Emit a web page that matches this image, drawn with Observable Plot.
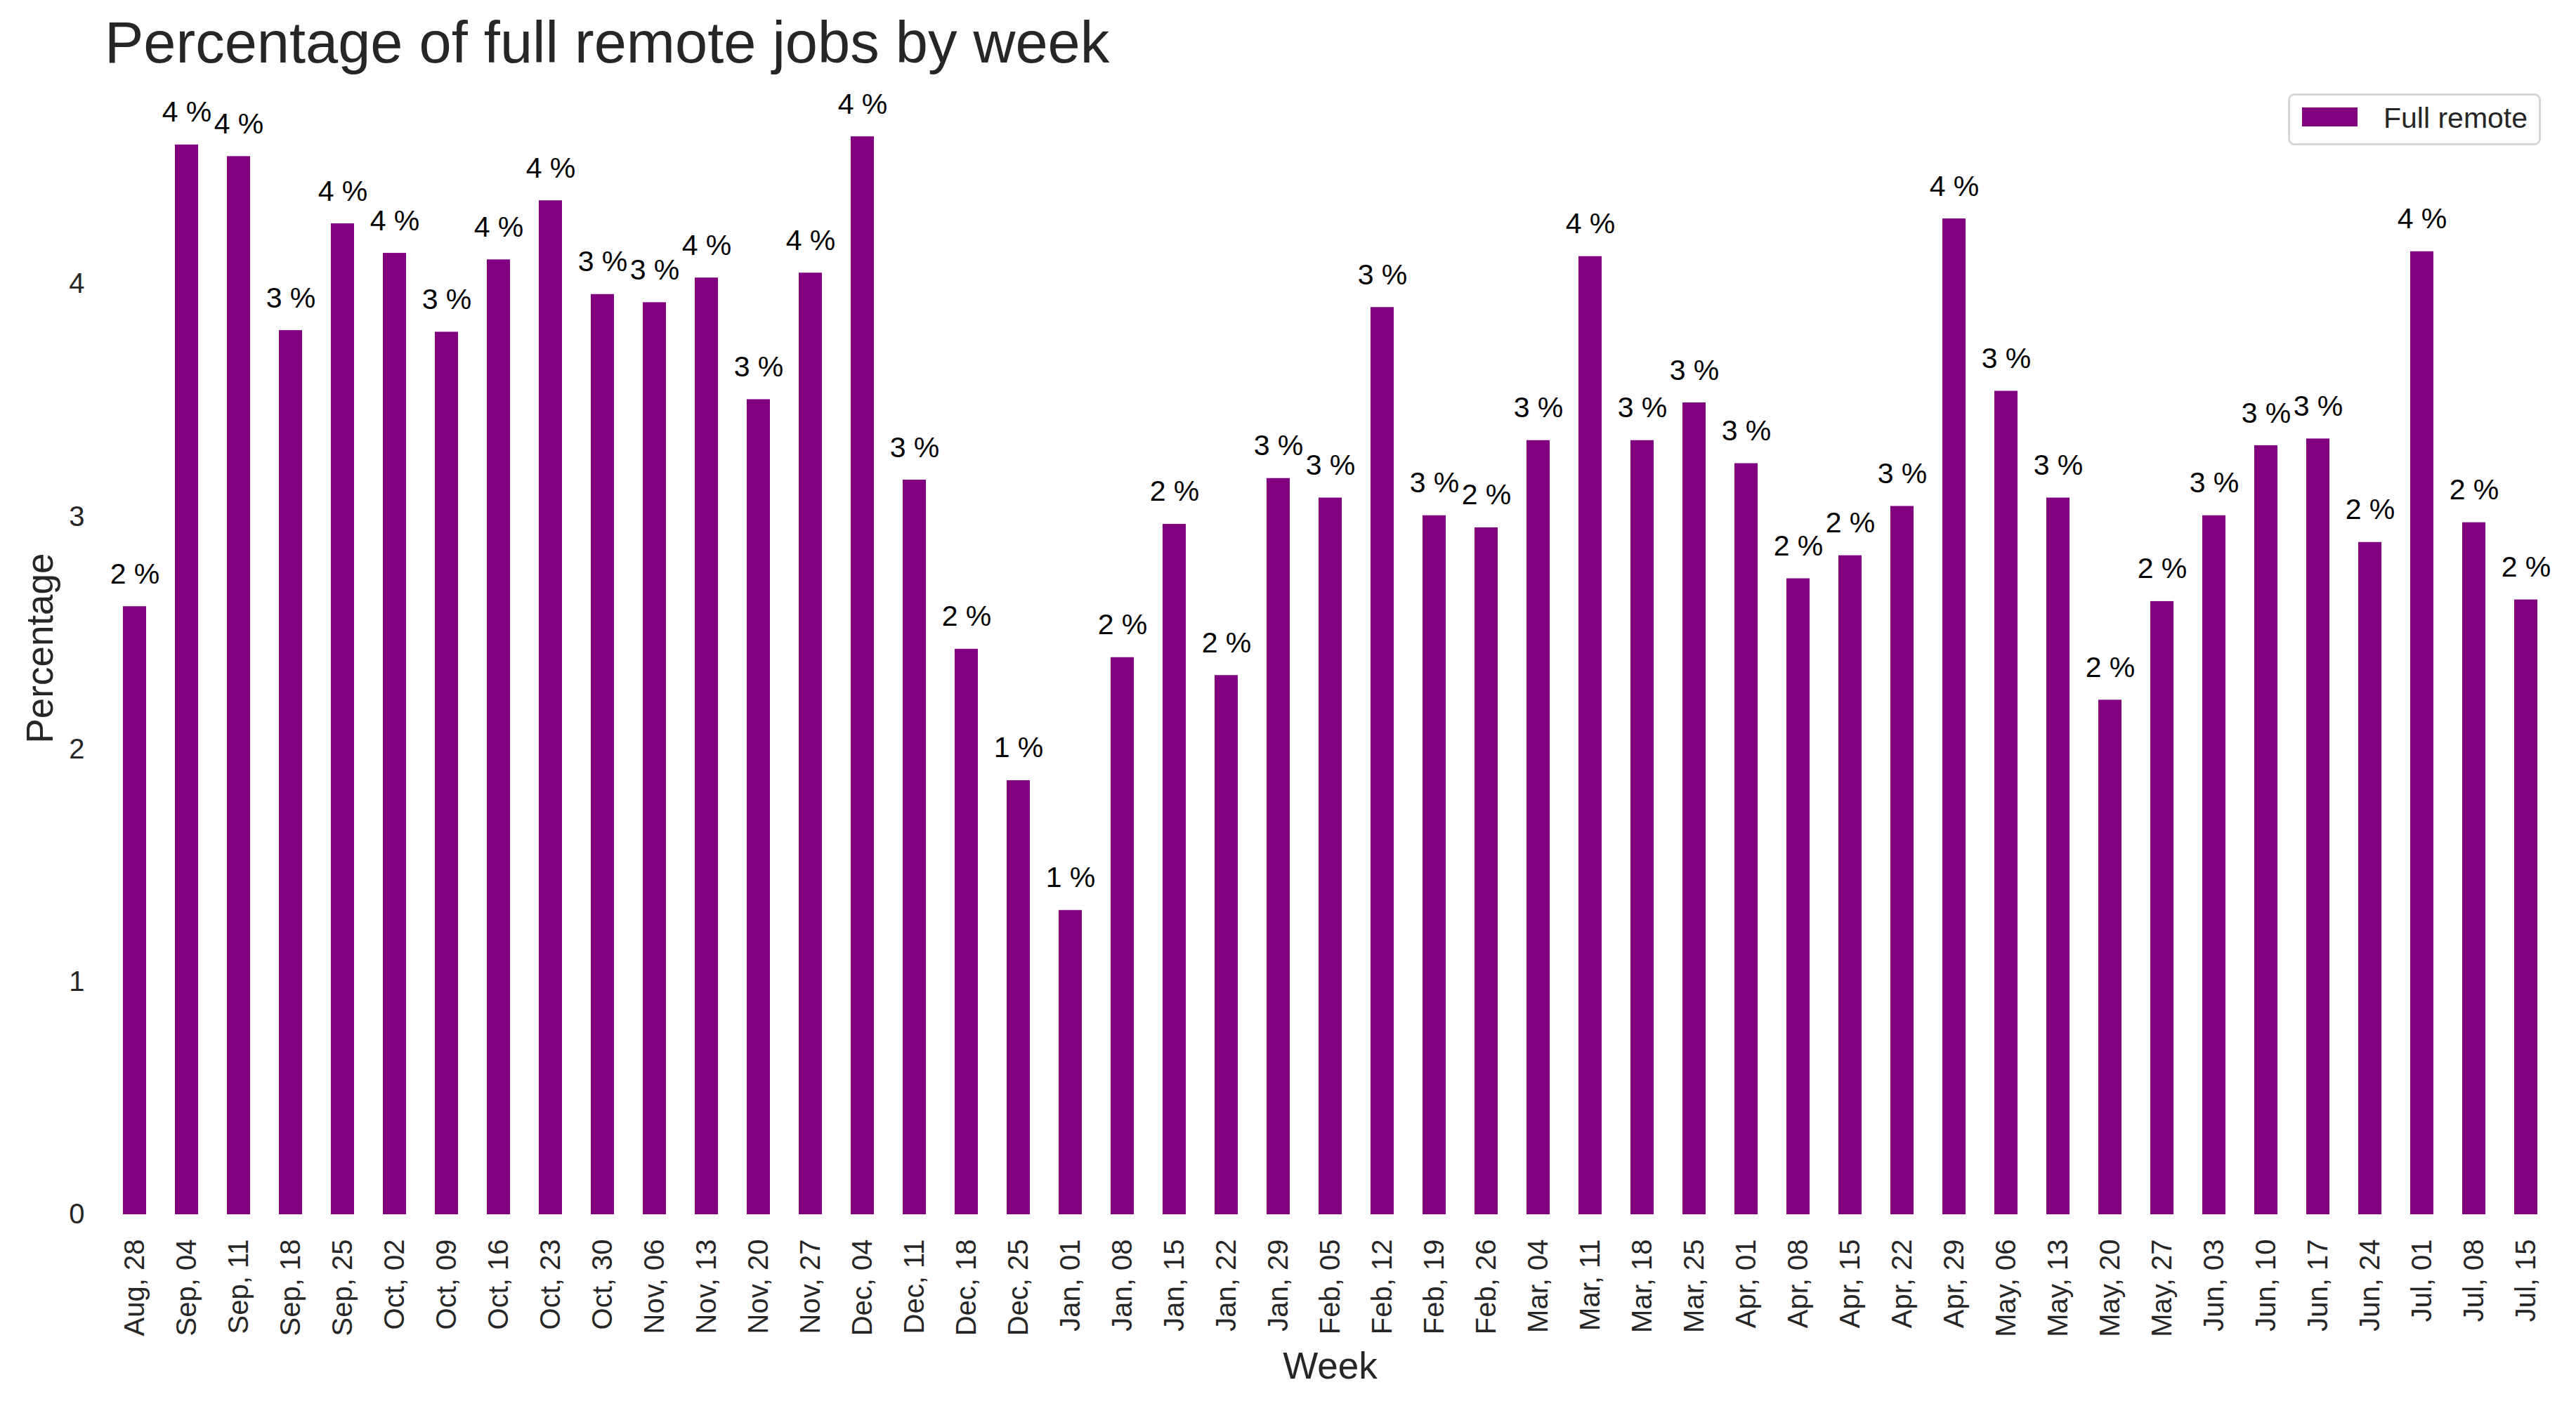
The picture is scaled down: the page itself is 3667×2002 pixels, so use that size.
<!DOCTYPE html>
<html>
<head>
<meta charset="utf-8">
<script src="https://cdn.jsdelivr.net/npm/d3@7"></script>
<script src="https://cdn.jsdelivr.net/npm/@observablehq/plot@0.6"></script>
<style>
  html, body { margin: 0; padding: 0; background: #fff; }
  #wrap { position: relative; width: 3667px; height: 2002px; overflow: hidden; font-family: "Liberation Sans", Arial, sans-serif; background: #fff; }
  #title { position: absolute; left: 149px; top: 19px; font-size: 83px; line-height: 83px; color: #262626; white-space: nowrap; z-index: 2; }
  #chart { position: absolute; left: 0; top: 100px; z-index: 1; }
  #legend { position: absolute; left: 3257px; top: 133px; width: 354px; height: 68px; border: 3px solid #d6d6d6; border-radius: 9px; background: #fff; z-index: 3; }
  #legend .sw { position: absolute; left: 17px; top: 17px; width: 79px; height: 27px; background: #800080; }
  #legend .lab { position: absolute; left: 133px; top: 9px; font-size: 41px; line-height: 46px; color: #262626; white-space: nowrap; }
</style>
</head>
<body>
<div id="wrap">
  <div id="title">Percentage of full remote jobs by week</div>
  <div id="chart"></div>
  <div id="legend"><div class="sw"></div><div class="lab">Full remote</div></div>
</div>
<script>
const weeks = ["Aug, 28","Sep, 04","Sep, 11","Sep, 18","Sep, 25","Oct, 02","Oct, 09","Oct, 16","Oct, 23","Oct, 30",
  "Nov, 06","Nov, 13","Nov, 20","Nov, 27","Dec, 04","Dec, 11","Dec, 18","Dec, 25","Jan, 01","Jan, 08",
  "Jan, 15","Jan, 22","Jan, 29","Feb, 05","Feb, 12","Feb, 19","Feb, 26","Mar, 04","Mar, 11","Mar, 18",
  "Mar, 25","Apr, 01","Apr, 08","Apr, 15","Apr, 22","Apr, 29","May, 06","May, 13","May, 20","May, 27",
  "Jun, 03","Jun, 10","Jun, 17","Jun, 24","Jul, 01","Jul, 08","Jul, 15"];
const fullRemote = [2.614,4.599,4.549,3.801,4.260,4.133,3.794,4.105,4.359,3.956,
  3.921,4.027,3.504,4.048,4.634,3.158,2.431,1.866,1.308,2.395,
  2.968,2.318,3.165,3.081,3.900,3.005,2.953,3.328,4.119,3.328,
  3.490,3.229,2.734,2.833,3.045,4.281,3.540,3.081,2.212,2.636,
  3.005,3.306,3.335,2.890,4.140,2.975,2.643];
const yTicks = [0, 1, 2, 3, 4];
const xLabel = "Week";
const yLabel = "Percentage";

const data = weeks.map((w, i) => ({week: w, value: fullRemote[i]}));
const font = "'Liberation Sans', Arial, sans-serif";

const chart = Plot.plot({
  width: 3667,
  height: 1902,
  marginLeft: 149,
  marginRight: 30,
  marginTop: 16,
  marginBottom: 273,
  style: {fontFamily: font, color: "#262626", background: "transparent", overflow: "visible"},
  x: {type: "band", domain: weeks, paddingInner: 0.555, paddingOuter: 0.2775, align: 0.5},
  y: {domain: [0, 4.87]},
  marks: [
    Plot.barY(data, {x: "week", y: "value", fill: "#800080"}),
    Plot.text(data, {x: "week", y: "value", text: d => `${Math.floor(d.value)} %`, dy: -33, lineAnchor: "bottom", fontSize: 41, fill: "black"}),
    Plot.axisY({ticks: yTicks, tickFormat: d => String(d), tickSize: 0, tickPadding: 29, fontSize: 40, label: null}),
    Plot.axisX({tickRotate: -90, tickSize: 0, tickPadding: 35, fontSize: 40, label: null}),
    Plot.text([xLabel], {frameAnchor: "bottom", text: d => d, dy: 233, lineAnchor: "bottom", fontSize: 53, fill: "#262626"}),
    Plot.text([yLabel], {frameAnchor: "left", text: d => d, dx: -91, rotate: -90, textAnchor: "middle", lineAnchor: "middle", fontSize: 53, fill: "#262626"})
  ]
});
document.getElementById("chart").appendChild(chart);
</script>
</body>
</html>
